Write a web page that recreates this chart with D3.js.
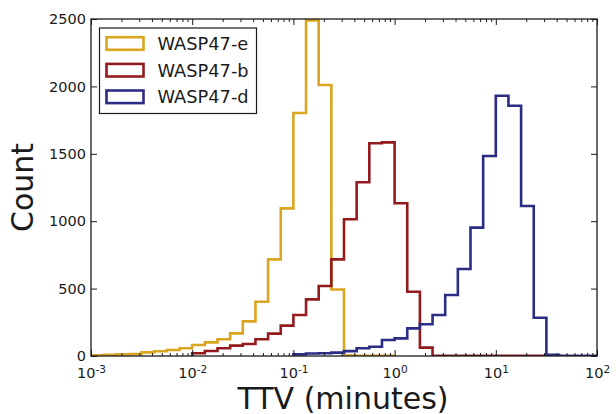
<!DOCTYPE html>
<html>
<head>
<meta charset="utf-8">
<script src="https://cdn.jsdelivr.net/npm/d3@7"></script>
<style>
  html, body { margin: 0; padding: 0; background: #fff; }
  svg { display: block; font-family: "DejaVu Sans", sans-serif; }
</style>
</head>
<body>
<svg id="chart" width="616" height="414"></svg>
<script>
// ---- data ----
const seriesNames = ["WASP47-e", "WASP47-b", "WASP47-d"];
const seriesColors = ["#DAA520", "#931b1e", "#2b2c83"];
// log10 bins: 8 per decade from 1e-3 to 1e2
const binsPerDecade = 8;
const binStartExp = -3;
const binCount = 40;
// first bin index of each series
const startBins = [0, 8, 16];
const countsE = [5, 8, 12, 15, 27, 35, 45, 57, 82, 101, 124, 168, 257, 403, 717, 1095, 1803, 2490, 2010, 493, 4, 2, 2, 1];
const countsB = [20, 37, 57, 77, 89, 124, 166, 225, 304, 420, 519, 717, 1014, 1289, 1578, 1585, 1133, 477, 62, 1, 1, 1, 1, 1, 1, 1, 1, 1];
const countsD = [12, 18, 20, 25, 36, 57, 69, 119, 131, 205, 235, 304, 452, 645, 952, 1484, 1931, 1857, 1113, 284, 8, 2, 2, 1];
const xTickExps = [-3, -2, -1, 0, 1, 2];
const yTicks = [0, 500, 1000, 1500, 2000, 2500];
const xLabel = "TTV (minutes)";
const yLabel = "Count";

const allCounts = [countsE, countsB, countsD];
const edges = d3.range(binCount + 1).map(i => Math.pow(10, binStartExp + i / binsPerDecade));

// ---- layout ----
const L = 91, R = 597, T = 19, B = 356;
const svg = d3.select("#chart");
const x = d3.scaleLog().domain([1e-3, 1e2]).range([L, R]);
const y = d3.scaleLinear().domain([0, 2500]).range([B, T]);
const ink = "#1a1a1a";

svg.append("defs").append("clipPath").attr("id", "plotclip")
  .append("rect").attr("x", L).attr("y", T).attr("width", R - L).attr("height", B - T);

// ---- histograms (step outlines) ----
const plot = svg.append("g").attr("clip-path", "url(#plotclip)");
allCounts.forEach((vals, si) => {
  const s = startBins[si];
  const pts = [[x(edges[s]), y(0)]];
  vals.forEach((v, k) => {
    pts.push([x(edges[s + k]), y(v)]);
    pts.push([x(edges[s + k + 1]), y(v)]);
  });
  pts.push([x(edges[s + vals.length]), y(0)]);
  plot.append("path")
    .attr("d", d3.line()(pts))
    .attr("fill", "none")
    .attr("stroke", seriesColors[si])
    .attr("stroke-width", 2.6)
    .attr("stroke-linejoin", "miter");
});

// ---- axes ----
const majorVals = xTickExps.map(e => Math.pow(10, e));
const minorVals = [];
xTickExps.slice(0, -1).forEach(e => { for (let m = 2; m <= 9; m++) minorVals.push(m * Math.pow(10, e)); });

function styleAxis(g) {
  g.select(".domain").remove();
  g.selectAll(".tick line").attr("stroke", ink).attr("stroke-width", 1);
}

// bottom major with labels
const gxb = svg.append("g").attr("transform", `translate(0,${B})`)
  .call(d3.axisBottom(x).tickValues(majorVals).tickSize(-6).tickPadding(12).tickFormat(() => ""));
styleAxis(gxb);
gxb.selectAll(".tick text").each(function(d) {
  const t = d3.select(this);
  t.text(null).attr("fill", ink).attr("font-size", 14.5).attr("font-family", "DejaVu Sans").attr("dy", "0.71em");
  t.append("tspan").text("10");
  t.append("tspan").attr("font-size", 10.5).attr("dy", "-0.55em").text(String(Math.round(Math.log10(d))));
});
svg.append("g").attr("transform", `translate(0,${B})`)
  .call(d3.axisBottom(x).tickValues(minorVals).tickSize(-3).tickFormat(() => "")).call(styleAxis);
// top
svg.append("g").attr("transform", `translate(0,${T})`)
  .call(d3.axisTop(x).tickValues(majorVals).tickSize(-6).tickFormat(() => "")).call(styleAxis);
svg.append("g").attr("transform", `translate(0,${T})`)
  .call(d3.axisTop(x).tickValues(minorVals).tickSize(-3).tickFormat(() => "")).call(styleAxis);
// left
const gyl = svg.append("g").attr("transform", `translate(${L},0)`)
  .call(d3.axisLeft(y).tickValues(yTicks).tickSize(-6).tickPadding(5).tickFormat(d3.format("d")));
styleAxis(gyl);
gyl.selectAll(".tick text").attr("fill", ink).attr("font-size", 14.5).attr("font-family", "DejaVu Sans").attr("x", -5);
// right
svg.append("g").attr("transform", `translate(${R},0)`)
  .call(d3.axisRight(y).tickValues(yTicks).tickSize(-6).tickFormat(() => "")).call(styleAxis);

// frame
svg.append("rect").attr("x", L).attr("y", T).attr("width", R - L).attr("height", B - T)
  .attr("fill", "none").attr("stroke", ink).attr("stroke-width", 1.3);

// ---- axis labels ----
svg.append("text").attr("x", (L + R) / 2 - 1).attr("y", 408.5).attr("text-anchor", "middle")
  .attr("font-size", 30).attr("fill", ink).text(xLabel);
svg.append("text").attr("transform", `translate(33,${(T + B) / 2}) rotate(-90)`).attr("text-anchor", "middle")
  .attr("font-size", 30).attr("fill", ink).text(yLabel);

// ---- legend ----
const lg = svg.append("g");
lg.append("rect").attr("x", 99.5).attr("y", 28).attr("width", 157).attr("height", 85.5)
  .attr("fill", "#fff").attr("stroke", ink).attr("stroke-width", 1.2);
const rowY = [43.5, 70.2, 96.8];
seriesNames.forEach((name, i) => {
  lg.append("rect").attr("x", 106.5).attr("y", rowY[i] - 6.3).attr("width", 37).attr("height", 12.6)
    .attr("fill", "#fff").attr("stroke", seriesColors[i]).attr("stroke-width", 2.6);
  lg.append("text").attr("x", 157.5).attr("y", rowY[i] + 6.6).attr("font-size", 17.8)
    .attr("fill", ink).text(name);
});
</script>
</body>
</html>
